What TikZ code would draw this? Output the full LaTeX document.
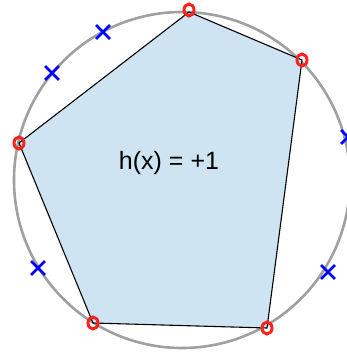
\documentclass[tikz,border=0pt]{standalone}
\usepackage{fontspec}
\setmainfont{Liberation Sans}
\usetikzlibrary{shapes.geometric,shapes.misc}
\definecolor{hullblue}{RGB}{206,228,242}
\definecolor{ringgray}{RGB}{160,160,160}
\definecolor{posred}{RGB}{250,35,30}

\begin{document}
\begin{tikzpicture}[x=1pt,y=-1pt,
  posmark/.style={ellipse,draw=posred,line width=3pt,inner sep=0pt,minimum width=10pt,minimum height=12pt},
  negmark/.style={cross out,draw=blue,line width=2.8pt,inner sep=0pt,minimum size=11pt}]
\useasboundingbox (0,0) rectangle (347,356);
\clip (0,0) rectangle (347,356);
\draw[ringgray,line width=2.6pt] (182,180) circle[radius=168pt];
\coordinate (a) at (189,12);
\coordinate (b) at (302,60);
\coordinate (c) at (267,328);
\coordinate (d) at (93,323);
\coordinate (e) at (19,143);
\draw[fill=hullblue,line width=1.1pt] (a) -- (b) -- (c) -- (d) -- (e) -- cycle;
\node[font=\fontsize{25}{29}\selectfont] (h) at (169,163) {h(x) = +1};
\node[posmark] (pa) at (189,10) {};
\node[posmark] (pb) at (b) {};
\node[posmark] (pc) at (c) {};
\node[posmark] (pd) at (d) {};
\node[posmark] (pe) at (e) {};
\node[negmark] (n1) at (103,32) {};
\node[negmark] (n2) at (52,73) {};
\node[negmark] (n3) at (38,268) {};
\node[negmark] (n4) at (328,272) {};
\node[negmark] (n5) at (348,137) {};
\end{tikzpicture}
\end{document}
